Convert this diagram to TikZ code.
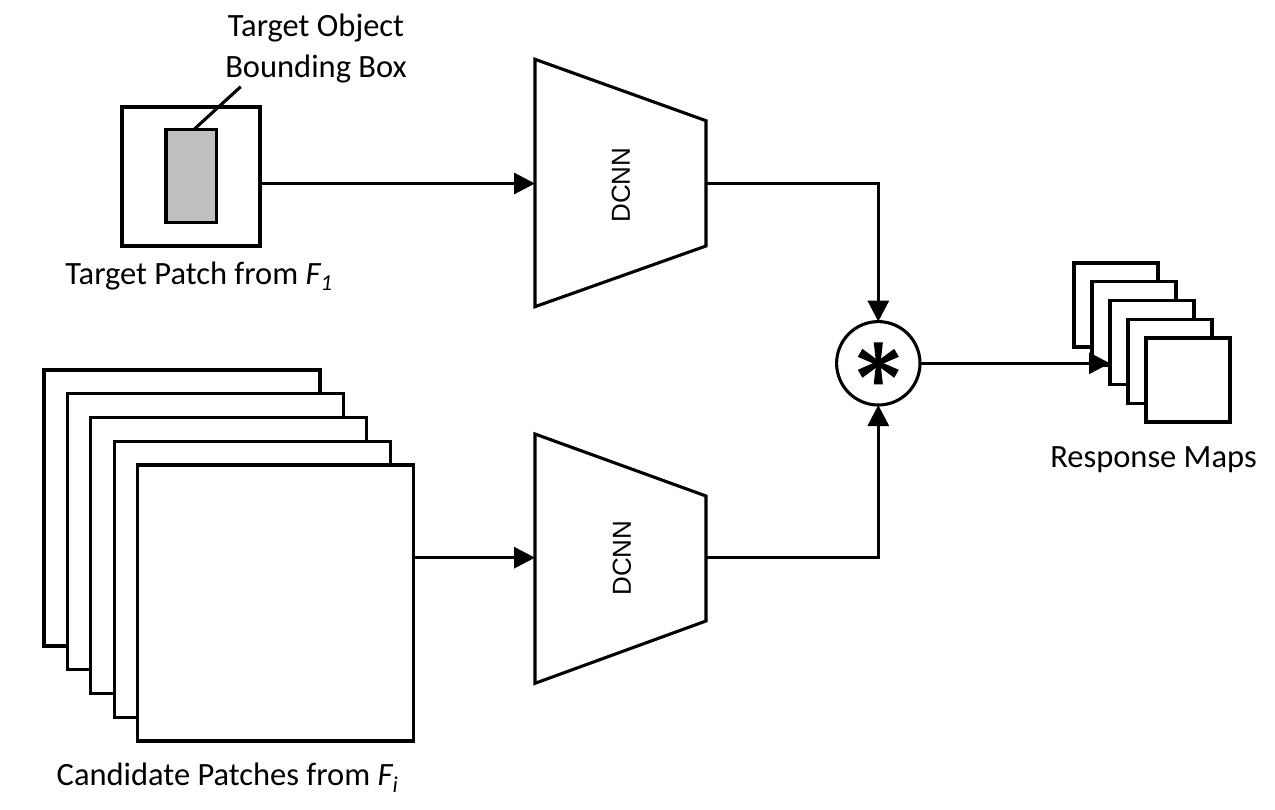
\documentclass[tikz,border=0pt]{standalone}
\usepackage{fontspec}
\setmainfont{Carlito}
\newfontfamily\arialf{Liberation Sans}
\usetikzlibrary{arrows.meta,calc}
\definecolor{boxgray}{HTML}{C0C0C0}
\begin{document}
\begin{tikzpicture}[x=1pt,y=-1pt, line width=3.1pt, line join=miter,
  sq/.style={draw, fill=white, inner sep=0pt, outer sep=0pt, minimum width=#1, minimum height=#1},
  lbl/.style={font=\fontsize{32.5}{41}\selectfont, inner sep=0pt},
  dcnnlbl/.style={font=\arialf\fontsize{26}{30}\selectfont, rotate=90, inner sep=0pt},
  arr/.style={-{Triangle[length=21pt,width=21pt]}}]
\useasboundingbox (0,0) rectangle (1275,810);

% target patch
\node[draw, inner sep=0pt, outer sep=0pt, minimum width=138pt, minimum height=139pt] (tp) at (191,176.5) {};
\node[draw, fill=boxgray, inner sep=0pt, outer sep=0pt, minimum width=50.7pt, minimum height=93.7pt] (bb) at (191.3,176) {};
\node[lbl, align=center] (tobj) at (316,49) {Target Object\\Bounding Box};
\coordinate (lead) at (240.7,86.7);
\draw ([xshift=3pt]bb.north) -- (lead);
\node[lbl] (tplbl) at (199,276) {Target Patch from \textit{F\textsubscript{1}}};

% candidate patches
\foreach \i in {0,...,4} {
  \node[sq=276pt] (c\i) at ({182+23.4*\i},{508+23.75*\i}) {};
}
\node[lbl] (cplbl) at (227.5,778) {Candidate Patches from \textit{F\textsubscript{i}}};

% DCNN top
\coordinate (d1a) at (535,59.3);
\coordinate (d1b) at (706,120.7);
\coordinate (d1c) at (706,246);
\coordinate (d1d) at (535,306.7);
\coordinate (d1in) at (535,183.5);
\coordinate (d1out) at (706,183.5);
\draw (d1a) -- (d1b) -- (d1c) -- (d1d) -- cycle;
\node[dcnnlbl] (dl1) at (621,185) {DCNN};

% DCNN bottom
\coordinate (d2a) at (535,434);
\coordinate (d2b) at (706,496);
\coordinate (d2c) at (706,621);
\coordinate (d2d) at (535,683.3);
\coordinate (d2in) at (535,557.7);
\coordinate (d2out) at (706,557.7);
\draw (d2a) -- (d2b) -- (d2c) -- (d2d) -- cycle;
\node[dcnnlbl] (dl2) at (622,558) {DCNN};

% convolution
\node[draw, circle, inner sep=0pt, outer sep=0pt, minimum size=83.4pt] (conv) at (878.3,363.3) {};
\begin{scope}[shift={(conv.center)}, x=1pt, y=1pt]
  \foreach \a in {90,30,150,210,270,330} {
    \fill[rotate=\a] (0,-2.2) -- (21,-4.6) -- (21,4.6) -- (0,2.2) -- cycle;
  }
\end{scope}

% response maps
\foreach \i in {0,...,4} {
  \node[sq=84pt] (r\i) at ({1116+18*\i},{305+18.75*\i}) {};
}
\node[lbl] (rmlbl) at (1153.5,460) {Response Maps};

% connectors
\draw[arr] (tp.east |- d1in) -- (d1in);
\draw[arr] (c4.east |- d2in) -- (d2in);
\draw[arr] (d1out) -| (conv.north);
\draw[arr] (d2out) -| (conv.south);
\draw[arr] (conv.east) -- (conv.east -| r2.west);
\end{tikzpicture}
\end{document}
